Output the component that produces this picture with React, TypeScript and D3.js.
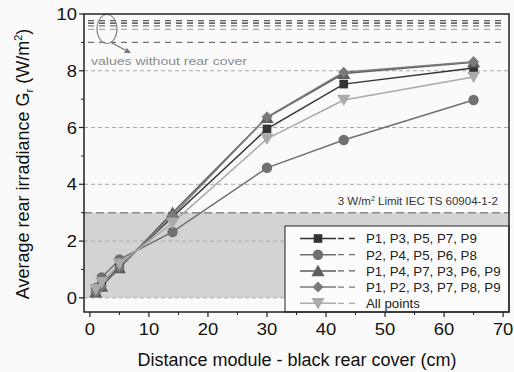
import React from "react";
import * as d3 from "d3";

const distances = [1, 2, 5, 14, 30, 43, 65];
const seriesNames = [
  "P1, P3, P5, P7, P9",
  "P2, P4, P5, P6, P8",
  "P1, P4, P7, P3, P6, P9",
  "P1, P2, P3, P7, P8, P9",
  "All points",
];
const sSquare = [0.25, 0.45, 1.1, 2.85, 5.95, 7.53, 8.1];
const sCircle = [0.35, 0.72, 1.35, 2.32, 4.58, 5.56, 6.97];
const sTriUp = [0.2, 0.4, 1.05, 3.0, 6.35, 7.9, 8.3];
const sDiamond = [0.2, 0.42, 1.08, 2.9, 6.37, 7.95, 8.32];
const sTriDown = [0.3, 0.55, 1.2, 2.64, 5.6, 6.97, 7.78];
const noCoverValues = [9.68, 9.0, 9.77, 9.58, 9.46];
const xTicks = [0, 10, 20, 30, 40, 50, 60, 70];
const yTicks = [0, 2, 4, 6, 8, 10];
const limitValue = 3;

const colors = ["#333333", "#707070", "#5e5e5e", "#7a7a7a", "#aaaaaa"];
const symbols = [d3.symbolSquare, d3.symbolCircle, d3.symbolTriangle, d3.symbolSquare, d3.symbolTriangle];
const symSizes = [75, 85, 75, 60, 75];

export default function App() {
  const W = 514, H = 372;
  const left = 84, right = 509, top = 14, bottom = 312;
  const x = d3.scaleLinear().domain([-1, 71]).range([left, right]);
  const y = d3.scaleLinear().domain([-0.5, 10]).range([bottom, top]);
  const allSeries = [sSquare, sCircle, sTriUp, sDiamond, sTriDown];
  const line = d3.line<number>().x((_, i) => x(distances[i])).y((d) => y(d));
  const font = "Liberation Sans, Arial, sans-serif";
  const minorX = d3.range(5, 71, 10);
  const minorY = d3.range(1, 10, 2);
  const legX = 285, legY = 226;

  const marker = (k: number, cx: number, cy: number) => {
    const p = d3.symbol().type(symbols[k]).size(symSizes[k])()!;
    const rot = k === 4 ? 180 : k === 3 ? 45 : 0;
    const dy = k === 2 ? 1.5 : k === 4 ? -1.5 : 0;
    return (
      <path d={p} transform={`translate(${cx},${cy + dy}) rotate(${rot})`} fill={colors[k]} />
    );
  };

  return (
    <svg width={W} height={H} style={{ position: "absolute", left: 0, top: 0, background: "#fafafa" }}>
      <rect x={0} y={0} width={W} height={H} fill="#fafafa" />
      {/* shaded limit area */}
      <rect x={left} y={y(limitValue)} width={right - left} height={y(0) - y(limitValue)} fill="#d3d3d3" />
      {/* grid */}
      {[0, 2, 4, 6, 8].map((v) => (
        <line key={v} x1={left} x2={right} y1={y(v)} y2={y(v)} stroke="#a8a8a8" strokeWidth={1} strokeDasharray="4,3" />
      ))}
      <line x1={left} x2={right} y1={y(limitValue)} y2={y(limitValue)} stroke="#8a8a8a" strokeWidth={1.5} strokeDasharray="8,4" />
      <text x={498} y={205} textAnchor="end" fontFamily={font} fontSize={11.5} fill="#333">
        3 W/m<tspan fontSize={7} dy={-4}>2</tspan><tspan dy={4}> Limit IEC TS 60904-1-2</tspan>
      </text>
      {/* values without rear cover */}
      {noCoverValues.map((v, k) => (
        <line key={k} x1={left + 4} x2={right - 4} y1={y(v)} y2={y(v)} stroke={colors[k]} strokeWidth={1.3} strokeDasharray="6,5" />
      ))}
      <ellipse cx={107} cy={29} rx={10} ry={14.5} fill="none" stroke="#888" strokeWidth={1.2} />
      <line x1={112} y1={43} x2={127} y2={51} stroke="#777" strokeWidth={1.3} />
      <path d="M131,53 L124,53 L127,48 Z" fill="#777" />
      <text x={91} y={65} fontFamily={font} fontSize={11.5} fill="#8a8a8a" textLength={156} lengthAdjust="spacingAndGlyphs">values without rear cover</text>
      {/* series */}
      {allSeries.map((s, k) => (
        <path key={k} d={line(s)!} fill="none" stroke={colors[k]} strokeWidth={1.5} />
      ))}
      {allSeries.map((s, k) => (
        <g key={k}>{s.map((v, i) => <g key={i}>{marker(k, x(distances[i]), y(v))}</g>)}</g>
      ))}
      {/* legend */}
      <rect x={legX} y={legY} width={right - legX} height={bottom - legY} fill="#fcfcfc" stroke="#222" strokeWidth={1} />
      {seriesNames.map((n, k) => {
        const cy = 238.5 + k * 16.2;
        return (
          <g key={k}>
            <line x1={300} x2={336} y1={cy} y2={cy} stroke={colors[k]} strokeWidth={1.5} />
            <line x1={338} x2={358} y1={cy} y2={cy} stroke={colors[k]} strokeWidth={1.3} strokeDasharray="6,5" />
            {marker(k, 318, cy)}
            <text x={366} y={cy + 4.8} fontFamily={font} fontSize={13.3} fill="#222">{n}</text>
          </g>
        );
      })}
      {/* frame */}
      <rect x={left} y={top} width={right - left} height={bottom - top} fill="none" stroke="#222" strokeWidth={1.5} />
      {/* x axis ticks */}
      {xTicks.map((t) => (
        <g key={t}>
          <line x1={x(t)} x2={x(t)} y1={bottom} y2={bottom + 5} stroke="#222" strokeWidth={1.2} />
          <text transform={`translate(${x(t)},${bottom + 23}) scale(1.15,1)`} textAnchor="middle" fontFamily={font} fontSize={16} fill="#111">{t}</text>
        </g>
      ))}
      {minorX.map((t) => (
        <line key={t} x1={x(t)} x2={x(t)} y1={bottom} y2={bottom + 3} stroke="#222" strokeWidth={1} />
      ))}
      {yTicks.map((t) => (
        <g key={t}>
          <line x1={left - 5} x2={left} y1={y(t)} y2={y(t)} stroke="#222" strokeWidth={1.2} />
          <text transform={`translate(${left - 7},${y(t) + 6}) scale(1.15,1)`} textAnchor="end" fontFamily={font} fontSize={16} fill="#111">{t}</text>
        </g>
      ))}
      {minorY.map((t) => (
        <line key={t} x1={left - 3} x2={left} y1={y(t)} y2={y(t)} stroke="#222" strokeWidth={1} />
      ))}
      <text x={297} y={366} textAnchor="middle" fontFamily={font} fontSize={18} fill="#111">Distance module - black rear cover (cm)</text>
      <text transform={`translate(29,${(top + bottom) / 2 + 1}) rotate(-90)`} textAnchor="middle" fontFamily={font} fontSize={18} fill="#111">
        Average rear irradiance G<tspan fontSize={11} dy={4}>r</tspan><tspan dy={-4}> (W/m</tspan><tspan fontSize={11} dy={-7}>2</tspan><tspan dy={7}>)</tspan>
      </text>
    </svg>
  );
}
